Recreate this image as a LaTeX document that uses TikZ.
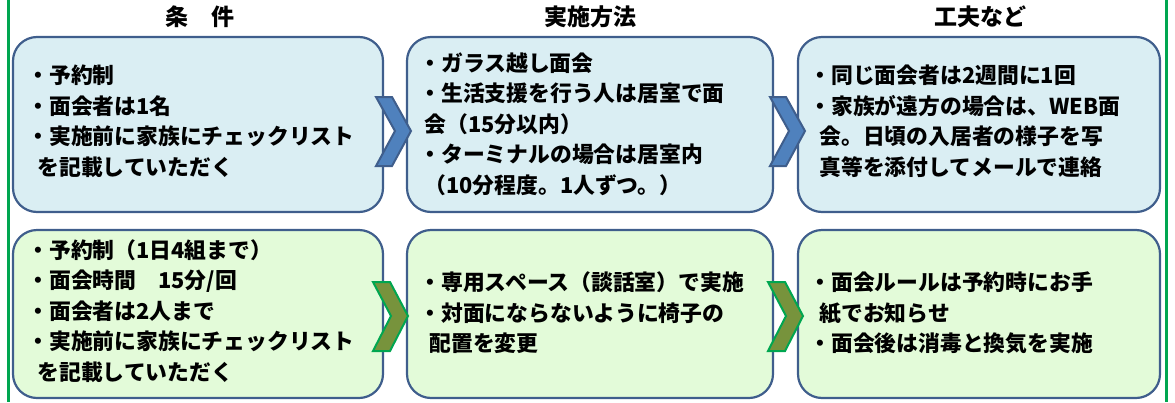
\documentclass[tikz,border=0pt]{standalone}
\usepackage{fontspec}
\setmainfont{Noto Sans CJK JP}
\usetikzlibrary{positioning}
\begin{document}
\begin{tikzpicture}[x=1pt,y=-1pt,
  box/.style={draw=boxline,line width=2.2pt,rounded corners=24pt,inner sep=0pt},
  bt/.style={align=left,anchor=west,font=\fontsize{21.8}{30.5}\selectfont\bfseries,text=black},
  hd/.style={font=\fontsize{23}{26}\selectfont\bfseries},
  chev/.style={line width=2pt}]
\definecolor{boxline}{HTML}{3F5E8C}
\definecolor{topfill}{HTML}{DAEEF3}
\definecolor{botfill}{HTML}{E3FBD9}
\definecolor{gline}{HTML}{00A650}
\definecolor{chevblue}{HTML}{4F81BD}
\definecolor{chevolive}{HTML}{77933C}
\useasboundingbox (0,0) rectangle (1175,402);
\draw[gline,line width=3pt] (8,0) -- (8,402);
\draw[gline,line width=3pt] (1166,0) -- (1166,402);
\node[hd] (h1) at (200,17) {条\quad 件};
\node[hd] (h2) at (590,17) {実施方法};
\node[hd] (h3) at (980,17) {工夫など};
% boxes
\draw[box,fill=topfill] (13,37) rectangle (383,212);
\draw[box,fill=topfill] (407,37) rectangle (773,212);
\draw[box,fill=topfill] (798,37) rectangle (1160,212);
\draw[box,fill=botfill] (13,230) rectangle (383,398);
\draw[box,fill=botfill] (407,230) rectangle (773,398);
\draw[box,fill=botfill] (798,230) rectangle (1160,398);
% chevrons
\draw[chev,draw=boxline,fill=chevblue] (376,97) -- (392,97) -- (411,131) -- (392,166) -- (376,166) -- (395,131) -- cycle;
\draw[chev,draw=boxline,fill=chevblue] (770,97) -- (786,97) -- (805,131) -- (786,166) -- (770,166) -- (789,131) -- cycle;
\draw[chev,draw=gline,fill=chevolive] (373,282) -- (390,282) -- (408,316) -- (390,351) -- (373,351) -- (391,316) -- cycle;
\draw[chev,draw=gline,fill=chevolive] (768,282) -- (785,282) -- (803,316) -- (785,351) -- (768,351) -- (786,316) -- cycle;
% texts
\node[bt] (t1) at (24,121) {・予約制\\・面会者は1名\\・実施前に家族にチェックリスト\\\ \ を記載していただく};
\node[bt] (t2) at (416,124) {・ガラス越し面会\\・生活支援を行う人は居室で面\\\ 会（15分以内）\\・ターミナルの場合は居室内\\\ （10分程度。1人ずつ。）};
\node[bt] (t3) at (806,121) {・同じ面会者は2週間に1回\\・家族が遠方の場合は、WEB面\\\ \ 会。日頃の入居者の様子を写\\\ \ 真等を添付してメールで連絡};
\node[bt] (t4) at (24,311) {・予約制（1日4組まで）\\・面会時間\quad 15分/回\\・面会者は2人まで\\・実施前に家族にチェックリスト\\\ \ を記載していただく};
\node[bt] (t5) at (416,313) {・専用スペース（談話室）で実施\\・対面にならないように椅子の\\\ \ 配置を変更};
\node[bt] (t6) at (806,313) {・面会ルールは予約時にお手\\\ \ 紙でお知らせ\\・面会後は消毒と換気を実施};
\end{tikzpicture}
\end{document}
